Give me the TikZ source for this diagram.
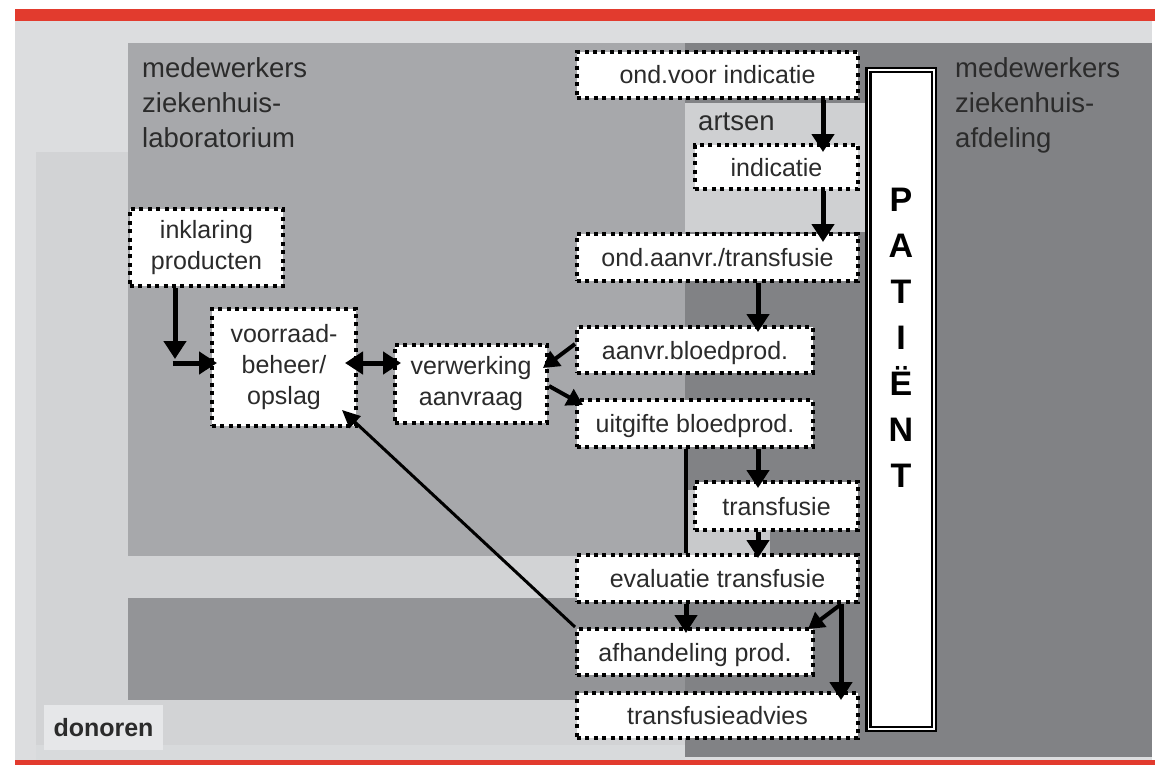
\documentclass[tikz,border=0pt]{standalone}
\usepackage{fontspec}
\setmainfont{Liberation Sans}
\usetikzlibrary{arrows.meta,calc}
\definecolor{redbar}{HTML}{E23B2E}
\definecolor{outerbg}{HTML}{DCDDDF}
\definecolor{donbg}{HTML}{D2D3D5}
\definecolor{botbg}{HTML}{D8DADC}
\definecolor{labbg}{HTML}{A7A8AB}
\definecolor{lowbg}{HTML}{939497}
\definecolor{afdbg}{HTML}{818285}
\definecolor{artbg}{HTML}{CFD0D2}
\definecolor{patchbg}{HTML}{C8C9CB}
\definecolor{txt}{HTML}{2B2B2B}
\definecolor{donlab}{HTML}{E6E7E9}
\begin{document}
\begin{tikzpicture}[x=1pt,y=-1pt,
  box/.style={draw=black,line width=4pt,dash pattern=on 4pt off 4.4pt,fill=white,
    inner sep=0pt,align=center,text=txt,font=\fontsize{25}{31}\selectfont},
  onebox/.style={box,text height=18pt,text depth=0pt},
  lbl/.style={text=txt,align=left,inner sep=0pt,font=\fontsize{27.5}{35}\selectfont},
  arr/.style={line width=5pt,arrows={-Triangle[width=22pt,length=18pt]}},
  dbl/.style={line width=5pt,arrows={Triangle[width=22pt,length=18pt]-Triangle[width=22pt,length=18pt]}},
  arrs/.style={line width=4pt,arrows={-Triangle[width=18pt,length=16pt]}},
  thinarr/.style={line width=3pt,arrows={-Triangle[width=16pt,length=18pt]}}]
\useasboundingbox (0,0) rectangle (1155,765);
% backgrounds
\fill[white] (0,0) rectangle (1155,765);
\fill[outerbg] (15,21) rectangle (1152,760);
\fill[donbg] (36,152) rectangle (1152,745);
\fill[botbg] (36,745) rectangle (685,760);
\fill[labbg] (128,43) rectangle (685,556);
\fill[lowbg] (128,598) rectangle (685,700);
\fill[afdbg] (685,43) rectangle (1152,757);
\fill[artbg] (685,103) rectangle (865,232);
\fill[patchbg] (688,490) rectangle (770,556);
\fill[redbar] (15,9) rectangle (1155,21);
\fill[redbar] (15,760) rectangle (1155,765);
% labels
\node[lbl,anchor=north west] (lablbl) at (142,57) {medewerkers\\ziekenhuis-\\laboratorium};
\node[lbl,anchor=north west] (afdlbl) at (955,57) {medewerkers\\ziekenhuis-\\afdeling};
\node[lbl,anchor=base west] (artsen) at (698,130) {artsen};
\node[fill=donlab,minimum width=119pt,minimum height=45pt,inner sep=0pt,text=txt,
  font=\fontsize{25}{30}\bfseries\selectfont,text height=18pt,text depth=0pt] (donoren) at (103.5,727.5) {donoren};
% patient
\node[draw=black,double=white,line width=2.5pt,double distance=1.5pt,fill=white,
  minimum width=65.5pt,minimum height=658.5pt,inner sep=0pt] (patientbox) at (901,399.5) {};
\node[align=center,inner sep=0pt,font=\fontsize{34}{46}\bfseries\selectfont,text=black] (patient) at (901,337.5) {P\\A\\T\\I\\Ë\\N\\T};
% nodes
\node[onebox,minimum width=281pt,minimum height=46pt] (ondvoor) at (717.5,75) {ond.voor indicatie};
\node[onebox,minimum width=163pt,minimum height=44pt] (indicatie) at (776.5,167) {indicatie};
\node[onebox,minimum width=281pt,minimum height=47pt] (ondaanvr) at (717.5,257.5) {ond.aanvr./transfusie};
\node[onebox,minimum width=236pt,minimum height=46pt] (aanvr) at (695,350) {aanvr.bloedprod.};
\node[onebox,minimum width=236pt,minimum height=47pt] (uitgifte) at (695,423.5) {uitgifte bloedprod.};
\node[onebox,minimum width=163pt,minimum height=48pt] (transfusie) at (776.5,506) {transfusie};
\node[onebox,minimum width=281pt,minimum height=47pt] (evaluatie) at (717.5,578.5) {evaluatie transfusie};
\node[onebox,minimum width=236pt,minimum height=46pt] (afhandeling) at (695,652) {afhandeling prod.};
\node[onebox,minimum width=281pt,minimum height=45pt] (advies) at (717.5,715.5) {transfusieadvies};
\node[box,minimum width=153pt,minimum height=77pt] (inklaring) at (206.5,247.5) {inklaring\\producten};
\node[box,minimum width=144pt,minimum height=117pt] (voorraad) at (284,367.5) {voorraad-\\beheer/\\opslag};
\node[box,minimum width=152pt,minimum height=78pt] (verwerking) at (471,384) {verwerking\\aanvraag};
% column coordinates
\coordinate (xa) at (823,0);
\coordinate (xb) at (758,0);
\coordinate (xv) at (686,0);
\coordinate (xk) at (841,0);
\coordinate (corner) at (175,363);
% connectors
\draw[arr,shorten >=-9pt] (ondvoor.south -| xa) -- (indicatie.north -| xa);
\draw[arr,shorten >=-10pt] (indicatie.south -| xa) -- (ondaanvr.north -| xa);
\draw[arr,shorten >=-7pt] (ondaanvr.south -| xb) -- (aanvr.north -| xb);
\draw[arrs] ($(aanvr.north west)+(0,19)$) -- ($(verwerking.north east)+(-6,25)$);
\draw[arrs] ($(verwerking.north east)+(0,43)$) -- ($(uitgifte.north west)+(8,7)$);
\draw[arr,shorten >=-8pt] (uitgifte.south -| xb) -- (transfusie.north -| xb);
\draw[line width=4pt] (uitgifte.south -| xv) -- (evaluatie.north -| xv);
\draw[arr,shorten >=-5pt] (transfusie.south -| xb) -- (evaluatie.north -| xb);
\draw[arr,shorten >=-6pt] (evaluatie.south -| xv) -- (afhandeling.north -| xv);
\draw[arrs] ($(evaluatie.south east)+(-20,1)$) -- ($(afhandeling.north east)+(-7,2)$);
\draw[arr,shorten >=-9pt] (evaluatie.south -| xk) -- (advies.north -| xk);
\draw[thinarr] (afhandeling.north west) -- ($(voorraad.south east)+(-16,-18)$);
\draw[arr] (inklaring.south -| corner) -- ($(corner)+(0,-4)$);
\draw[arr,shorten <=-2.5pt,shorten >=-7pt] (corner) -- (voorraad.west |- corner);
\draw[dbl,shorten <=-13pt,shorten >=-8pt] (voorraad.east |- corner) -- (verwerking.west |- corner);
\end{tikzpicture}
\end{document}
